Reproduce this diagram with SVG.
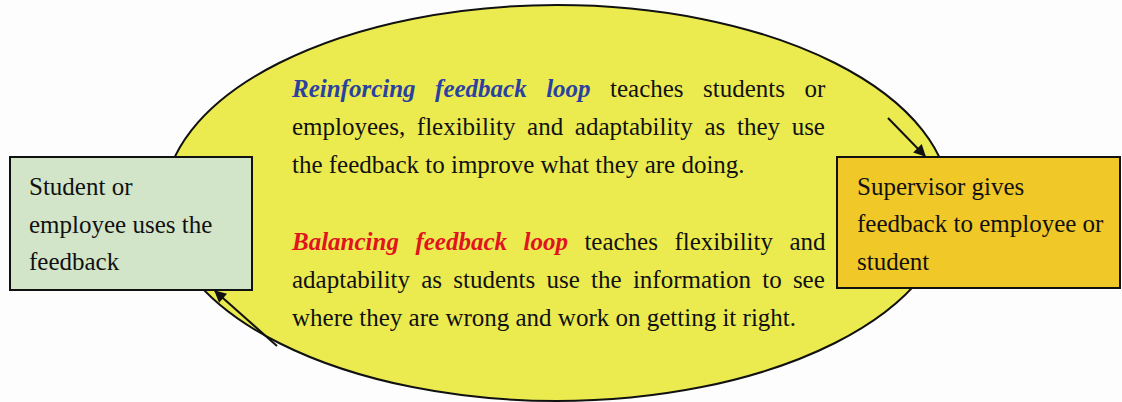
<svg xmlns="http://www.w3.org/2000/svg" width="1122" height="402" viewBox="0 0 1122 402">
<defs>
<style>
.t{font-family:"Liberation Serif","Times New Roman",serif;font-size:25px;fill:#111}
.bl{fill:#2b41a0;font-weight:bold;font-style:italic}
.rd{fill:#e0141e;font-weight:bold;font-style:italic}
.box{stroke:#111;stroke-width:2}
.conn{stroke:#111;stroke-width:2;fill:none}
</style>
<marker id="ah" viewBox="0 0 10 10" refX="9" refY="5" markerWidth="7" markerHeight="6" markerUnits="strokeWidth" orient="auto">
<path d="M0,0 L10,5 L0,10 z" fill="#111"/>
</marker>
</defs>
<rect width="1122" height="402" fill="#fdfdfd"/>
<g id="loop">
<ellipse cx="557" cy="203" rx="393" ry="198" fill="#ebeb50" stroke="#111" stroke-width="2"/>
<text class="t" x="292" y="97" word-spacing="13.2"><tspan class="bl">Reinforcing feedback loop</tspan> teaches students or</text>
<text class="t" x="292" y="135" word-spacing="5.4">employees, flexibility and adaptability as they use</text>
<text class="t" x="292" y="173">the feedback to improve what they are doing.</text>
<text class="t" x="292" y="250" word-spacing="10.2"><tspan class="rd">Balancing feedback loop</tspan> teaches flexibility and</text>
<text class="t" x="292" y="288" word-spacing="5">adaptability as students use the information to see</text>
<text class="t" x="292" y="326">where they are wrong and work on getting it right.</text>
</g>
<g id="student">
<rect class="box" x="10" y="157" width="242" height="133" fill="#d2e5c9"/>
<text class="t" x="29" y="195">Student or</text>
<text class="t" x="29" y="233">employee uses the</text>
<text class="t" x="29" y="270">feedback</text>
</g>
<g id="supervisor">
<rect class="box" x="837" y="157" width="283" height="131" fill="#f0c828"/>
<text class="t" x="857" y="195">Supervisor gives</text>
<text class="t" x="857" y="232">feedback to employee or</text>
<text class="t" x="857" y="270">student</text>
</g>
<g id="connectors">
<line class="conn" x1="888" y1="118" x2="925" y2="156" marker-end="url(#ah)"/>
<line class="conn" x1="277" y1="346" x2="215" y2="291" marker-end="url(#ah)"/>
</g>
</svg>
